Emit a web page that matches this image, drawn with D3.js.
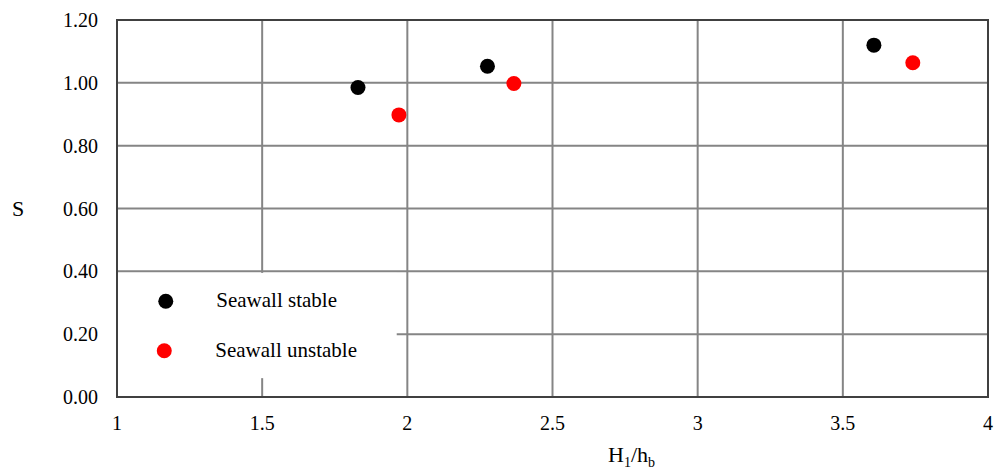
<!DOCTYPE html>
<html>
<head>
<meta charset="utf-8">
<script src="https://cdn.jsdelivr.net/npm/d3@7"></script>
</head>
<body style="margin:0">
<script>
// Values
let stableX = [1.83, 2.276, 3.607];
let stableY = [0.985, 1.053, 1.12];
let unstableX = [1.971, 2.367, 3.741];
let unstableY = [0.898, 0.998, 1.064];
let xTicks = [1, 1.5, 2, 2.5, 3, 3.5, 4];
let yTicks = [0, 0.2, 0.4, 0.6, 0.8, 1.0, 1.2];
let seriesNames = ["Seawall stable", "Seawall unstable"];
let seriesColors = ["#000000", "#ff0000"];

let serif = "'Tinos'";

let width = 995,
    height = 470;
let margin = {top: 20, right: 7, bottom: 73, left: 117};

let svg = d3.select("body")
    .append("svg")
    .attr("width", width)
    .attr("height", height);

let x = d3.scaleLinear()
    .domain([1, 4])
    .range([margin.left, width - margin.right]);

let y = d3.scaleLinear()
    .domain([0, 1.2])
    .range([height - margin.bottom, margin.top]);

// grid lines
svg.append("g")
    .selectAll("line")
    .data(xTicks.slice(1, -1))
    .enter()
    .append("line")
    .attr("x1", d => x(d))
    .attr("x2", d => x(d))
    .attr("y1", y(0))
    .attr("y2", y(1.2))
    .attr("stroke", "#858585")
    .attr("stroke-width", 2);

svg.append("g")
    .selectAll("line")
    .data(yTicks.slice(1, -1))
    .enter()
    .append("line")
    .attr("x1", x(1))
    .attr("x2", x(4))
    .attr("y1", d => y(d))
    .attr("y2", d => y(d))
    .attr("stroke", "#858585")
    .attr("stroke-width", 2);

// legend background hides the grid behind it
let legendBox = {x0: 1, x1: 1.96, y0: 0.06, y1: 0.395};
svg.append("rect")
    .attr("x", x(legendBox.x0) + 1)
    .attr("y", y(legendBox.y1))
    .attr("width", x(legendBox.x1) - x(legendBox.x0))
    .attr("height", y(legendBox.y0) - y(legendBox.y1))
    .attr("fill", "#fff");

// plot frame
svg.append("rect")
    .attr("x", x(1))
    .attr("y", y(1.2))
    .attr("width", x(4) - x(1))
    .attr("height", y(0) - y(1.2))
    .attr("fill", "none")
    .attr("stroke", "#404040")
    .attr("stroke-width", 2);

// tick labels (no tick marks in the reference)
svg.append("g")
    .selectAll("text")
    .data(xTicks)
    .enter()
    .append("text")
    .attr("x", d => x(d))
    .attr("y", y(0) + 33)
    .attr("text-anchor", "middle")
    .attr("font-family", d => serif)
    .attr("font-size", 20)
    .text(d => d3.format("")(d));

svg.append("g")
    .selectAll("text")
    .data(yTicks)
    .enter()
    .append("text")
    .attr("x", x(1) - 19)
    .attr("y", d => y(d) + 7)
    .attr("text-anchor", "end")
    .attr("font-family", d => serif)
    .attr("font-size", 20)
    .text(d => d3.format(".2f")(d));

// points
let series = [
    {xs: stableX, ys: stableY, color: seriesColors[0]},
    {xs: unstableX, ys: unstableY, color: seriesColors[1]}
];
series.forEach(s => {
    svg.append("g")
        .selectAll("circle")
        .data(s.xs.map((v, i) => [v, s.ys[i]]))
        .enter()
        .append("circle")
        .attr("cx", d => x(d[0]))
        .attr("cy", d => y(d[1]))
        .attr("r", 7.5)
        .attr("fill", s.color);
});

// legend entries
let legendY = [0.305, 0.147];
svg.append("g")
    .selectAll("circle")
    .data(seriesColors)
    .enter()
    .append("circle")
    .attr("cx", (d, i) => x(1.168) - i * 1.5)
    .attr("cy", (d, i) => y(legendY[i]))
    .attr("r", 7.5)
    .attr("fill", d => d);

svg.append("g")
    .selectAll("text")
    .data(seriesNames)
    .enter()
    .append("text")
    .attr("x", (d, i) => x(1.342) - i)
    .attr("y", (d, i) => y(legendY[i]) + 6)
    .attr("font-family", d => serif)
    .attr("font-size", 21)
    .text(d => d);

// axis titles
svg.append("text")
    .attr("x", 18)
    .attr("y", (y(0) + y(1.2)) / 2 + 7)
    .attr("text-anchor", "middle")
    .attr("font-family", serif)
    .attr("font-size", 22)
    .text("S");

let xTitle = svg.append("text")
    .attr("x", 608)
    .attr("y", 462)
    .attr("font-family", serif)
    .attr("font-size", 22);
xTitle.append("tspan").text("H");
xTitle.append("tspan").attr("dy", 5).attr("font-size", 14).text("1");
xTitle.append("tspan").attr("dy", -5).text("/h");
xTitle.append("tspan").attr("dy", 5).attr("font-size", 14).text("b");
</script>
</body>
</html>
